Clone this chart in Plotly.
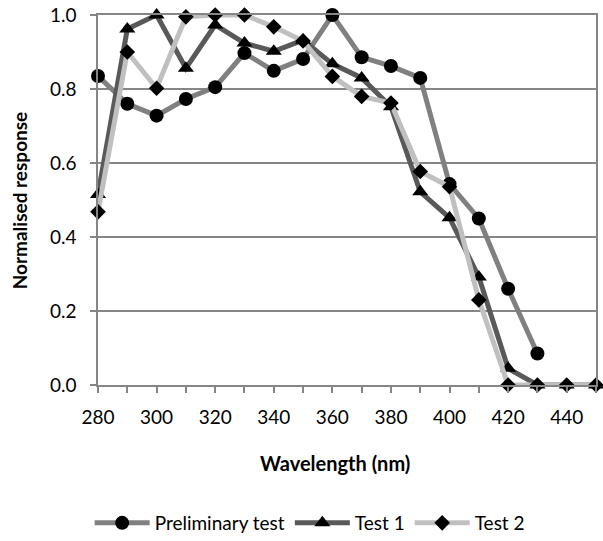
import plotly.graph_objects as go

wavelength = [280, 290, 300, 310, 320, 330, 340, 350, 360, 370, 380, 390, 400, 410, 420, 430, 440, 450]
prelim_x = wavelength[:16]
prelim = [0.835, 0.76, 0.728, 0.773, 0.805, 0.897, 0.849, 0.881, 1.0, 0.886, 0.862, 0.83, 0.543, 0.45, 0.26, 0.085]
test1 = [0.515, 0.962, 1.0, 0.856, 0.973, 0.924, 0.902, 0.932, 0.868, 0.83, 0.752, 0.522, 0.452, 0.292, 0.045, 0.0, 0.0, 0.0]
test2 = [0.468, 0.9, 0.802, 0.995, 1.0, 1.0, 0.968, 0.93, 0.834, 0.78, 0.762, 0.577, 0.536, 0.23, 0.0, 0.0, 0.0, 0.0]

FONT = "Lato"
AX = "#868686"

fig = go.Figure()
fig.add_trace(go.Scatter(x=prelim_x, y=prelim, name="Preliminary test", mode="lines+markers",
                         line=dict(color="#808080", width=5),
                         marker=dict(symbol="circle", size=14, color="black"), cliponaxis=False))
fig.add_trace(go.Scatter(x=wavelength, y=test1, name="Test 1", mode="lines+markers",
                         line=dict(color="#595959", width=5),
                         marker=dict(symbol="triangle-up", size=14, color="black"), cliponaxis=False))
fig.add_trace(go.Scatter(x=wavelength, y=test2, name="Test 2", mode="lines+markers",
                         line=dict(color="#c0c0c0", width=5),
                         marker=dict(symbol="diamond", size=12, color="black"), cliponaxis=False))

fig.update_layout(
    width=603, height=541,
    margin=dict(l=98, r=7, t=15, b=156, autoexpand=False),
    plot_bgcolor="white", paper_bgcolor="white",
    font=dict(family=FONT, size=19, color="black"),
    showlegend=True,
    legend=dict(orientation="h", x=0.425, xanchor="center", yref="container", y=0.0333, yanchor="middle",
                itemwidth=55, font=dict(family=FONT, size=19, color="black"), tracegroupgap=0),
    xaxis=dict(range=[280, 450], tick0=280, dtick=20, showgrid=False, zeroline=False, automargin=False,
               showline=True, linecolor=AX, linewidth=1.5, mirror=True,
               ticks="outside", ticklen=6, tickcolor=AX, tickwidth=1.5, ticklabelstandoff=8,
               ticklabeloverflow="allow",
               minor=dict(dtick=10, tick0=280, ticks="outside", ticklen=6, tickcolor=AX, tickwidth=1.5),
               tickfont=dict(family=FONT, size=19)),
    yaxis=dict(range=[0, 1], dtick=0.2, tickformat=".1f", showgrid=True, gridcolor=AX, gridwidth=1.5,
               zeroline=False, showline=True, linecolor=AX, linewidth=1.5, mirror=True, automargin=False,
               ticks="outside", ticklen=6, tickcolor=AX, tickwidth=1.5, ticklabelstandoff=10,
               ticklabeloverflow="allow",
               tickfont=dict(family=FONT, size=19)),
    annotations=[
        dict(text="<b>Wavelength (nm)</b>", xref="paper", yref="paper", x=0.476, y=-0.211,
             xanchor="center", yanchor="middle", showarrow=False, font=dict(family=FONT, size=20)),
        dict(text="<b>Normalised response</b>", xref="paper", yref="paper", x=-0.158, y=0.5,
             xanchor="center", yanchor="middle", textangle=-90, showarrow=False, font=dict(family=FONT, size=19)),
    ],
)

fig.write_html("out.html", config={"displayModeBar": False},
               post_script="document.body.style.margin='0';")
